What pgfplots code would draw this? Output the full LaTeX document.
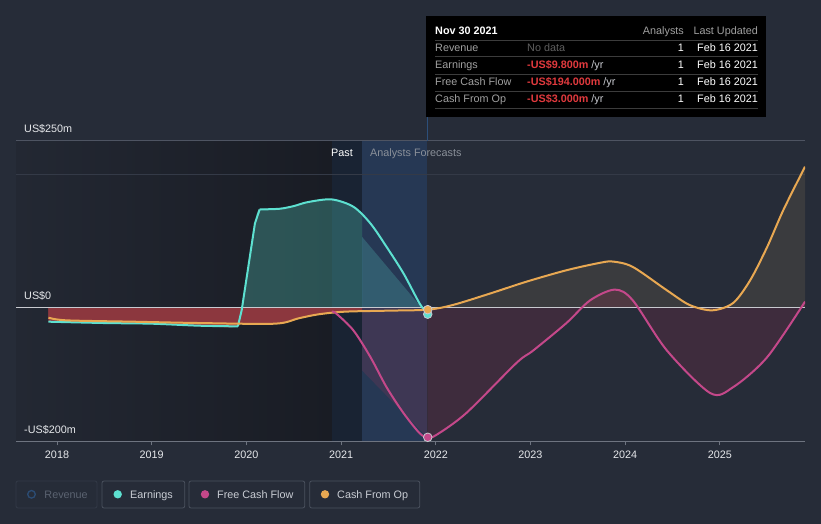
\documentclass[border=0pt]{standalone}
\usepackage{fontspec}
\setmainfont{Liberation Sans}
\usepackage{pgfplots}
\pgfplotsset{compat=1.18}
\definecolor{bg}{RGB}{38,44,56}
\definecolor{pastL}{RGB}{35,40,51}
\definecolor{pastR}{RGB}{25,28,36}
\definecolor{bandA}{RGB}{25,35,51}
\definecolor{bandB}{RGB}{38,56,84}
\definecolor{gridA}{RGB}{78,84,98}
\definecolor{gridB}{RGB}{52,58,71}
\definecolor{zeroc}{RGB}{200,202,208}
\definecolor{tickc}{RGB}{110,116,128}
\definecolor{lbl}{RGB}{230,232,235}
\definecolor{teal}{RGB}{93,224,208}
\definecolor{mag}{RGB}{196,72,138}
\definecolor{org}{RGB}{232,168,82}
\definecolor{negred}{RGB}{140,55,62}
\definecolor{cfofill}{RGB}{138,122,90}
\definecolor{fcffill}{RGB}{200,50,90}
\definecolor{ttgray}{RGB}{160,160,160}
\definecolor{ttdim}{RGB}{95,95,95}
\definecolor{ttred}{RGB}{226,58,62}
\definecolor{ttsep}{RGB}{60,60,60}
\definecolor{legtxt}{RGB}{201,205,212}
\definecolor{legbd}{RGB}{74,81,94}
\definecolor{legbd2}{RGB}{51,58,71}
\definecolor{revtxt}{RGB}{91,99,113}
\definecolor{revc}{RGB}{43,76,116}
\definecolor{hover}{RGB}{44,79,122}
\definecolor{pastlbl}{RGB}{138,144,153}
\begin{document}
\begin{tikzpicture}[font=\fontsize{10.8bp}{13bp}\selectfont]
\begin{scope}[x=1bp,y=-1bp,shift={(-16bp,441.3bp)}]
\fill[bg] (0,0) rectangle (821,524);
\end{scope}
\begin{axis}[
  scale only axis, width=789bp, height=300.7bp,
  xmin=2017.567, xmax=2025.899, ymin=-200, ymax=250,
  axis on top,
  axis line style={draw=none},
  xtick={2018,2019,2020,2021,2022,2023,2024,2025},
  xticklabels={2018,2019,2020,2021,2022,2023,2024,2025},
  xtick pos=left, ytick pos=left, tick align=outside,
  major tick length=4bp,
  xtick style={draw=tickc, line width=0.8bp},
  ytick style={draw=none},
  ytick={-200,0,250},
  yticklabels={-US\$200m, US\$0, US\$250m},
  yticklabel style={anchor=base west, inner sep=0pt, xshift=12bp, yshift=8bp, text=lbl},
  xticklabel style={anchor=base, inner sep=0pt, yshift=-12.7bp, text=lbl},
  /pgf/number format/assume math mode=true,
]
% background regions
\shade[left color=pastL, right color=pastR] (axis cs:2017.567,-200) rectangle (axis cs:2020.904,250);
\fill[bandA] (axis cs:2020.904,-200) rectangle (axis cs:2021.221,250);
\fill[bandB] (axis cs:2021.221,-200) rectangle (axis cs:2021.91,250);
% grid lines
\draw[gridB, line width=0.8bp] (axis cs:2017.567,200) -- (axis cs:2025.899,200);
\draw[gridA, line width=0.8bp] (axis cs:2017.567,250) -- (axis cs:2025.899,250);
% red fill (past negative)
\addplot[draw=none, fill=negred, smooth] coordinates {
 (2017.91,-15) (2018.1,-19) (2018.8,-21) (2019.5,-23) (2020.3,-24)
 (2020.55,-16) (2020.76,-10) (2021.04,-6) (2021.221,-5) } \closedcycle;
\addplot[draw=none, fill=negred, smooth] coordinates {
 (2017.91,-21) (2018.5,-23) (2019.0,-24) (2019.5,-27) (2019.91,-28) (2019.955,0) } \closedcycle;
% teal fill (past positive earnings)
\addplot[draw=none, fill=teal, fill opacity=0.28, smooth] coordinates {
 (2019.955,0) (2020.02,61) (2020.09,126) (2020.14,147) (2020.35,148) (2020.5,152)
 (2020.65,158) (2020.9,162) (2021.13,151) (2021.221,140) } \closedcycle;
\addplot[draw=none, fill=teal, fill opacity=0.22] coordinates {
 (2021.221,0) (2021.221,106) (2021.85,0) } \closedcycle;
% fcf past fill (band)
\addplot[draw=none, fill=fcffill, fill opacity=0.15] coordinates {
 (2021.221,0) (2021.221,-94) (2021.91,-194) (2021.91,0) } \closedcycle;
% forecast fills
\addplot[draw=none, fill=cfofill, fill opacity=0.2, smooth] coordinates {
 (2021.915,-3) (2022.18,4) (2022.57,21) (2022.96,39) (2023.38,56) (2023.73,67)
 (2023.87,69) (2024.08,61) (2024.44,26) (2024.68,4) (2024.92,-4) (2025.14,7)
 (2025.32,41) (2025.5,91) (2025.67,146) (2025.899,211) } \closedcycle;
\addplot[draw=none, fill=fcffill, fill opacity=0.15, smooth] coordinates {
 (2021.915,-194) (2022.0,-191) (2022.32,-158) (2022.85,-83) (2023.03,-64)
 (2023.38,-23) (2023.63,11) (2023.89,27) (2024.08,11) (2024.44,-64)
 (2024.9,-128) (2025.14,-119) (2025.5,-74) (2025.899,9) } \closedcycle;
% zero line
\draw[zeroc, line width=1.3bp] (axis cs:2017.567,0) -- (axis cs:2025.899,0);
% earnings line
\addplot[teal, line width=2bp, smooth] coordinates {
 (2017.91,-21) (2018.5,-23) (2019.0,-24) (2019.5,-27) (2019.91,-28) };
\addplot[teal, line width=2bp] coordinates { (2019.91,-28) (2019.95,-4) (2020.02,61) (2020.09,126) (2020.14,147) };
\addplot[teal, line width=2bp, smooth] coordinates {
 (2020.14,147) (2020.35,148) (2020.5,152) (2020.65,158) (2020.9,162)
 (2021.13,151) (2021.31,126) (2021.48,91) (2021.66,51) (2021.83,6) (2021.915,-9.8) };
% cash from op
\addplot[org, line width=2bp, smooth] coordinates {
 (2017.91,-15) (2018.1,-19) (2018.8,-21) (2019.5,-23) (2020.3,-24)
 (2020.55,-16) (2020.76,-10) (2021.04,-6) (2021.5,-4.5) (2021.915,-3)
 (2022.18,4) (2022.57,21) (2022.96,39) (2023.38,56) (2023.73,67)
 (2023.87,69) (2024.08,61) (2024.44,26) (2024.68,4) (2024.92,-4) (2025.14,7)
 (2025.32,41) (2025.5,91) (2025.67,146) (2025.899,211) };
% free cash flow
\addplot[mag, line width=2bp, smooth] coordinates {
 (2020.904,-6) (2020.95,-9) (2021.13,-34) (2021.31,-74) (2021.48,-119) (2021.66,-158)
 (2021.83,-188) (2021.915,-194) (2022.0,-191) (2022.32,-158) (2022.85,-83) (2023.03,-64)
 (2023.38,-23) (2023.63,11) (2023.89,27) (2024.08,11) (2024.44,-64)
 (2024.9,-128) (2025.14,-119) (2025.5,-74) (2025.899,9) };
% markers
\addplot[only marks, mark=*, mark size=4.3bp, mark options={fill=teal, draw=zeroc, line width=0.8bp}] coordinates {(2021.915,-9.8)};
\addplot[only marks, mark=*, mark size=4.3bp, mark options={fill=org, draw=zeroc, line width=0.8bp}] coordinates {(2021.915,-3)};
\addplot[only marks, mark=*, mark size=4.3bp, mark options={fill=mag, draw=zeroc, line width=0.8bp}] coordinates {(2021.915,-194)};
% bottom axis line
\draw[tickc, line width=1bp] (rel axis cs:0,0) -- (rel axis cs:1,0);
\end{axis}
\begin{scope}[x=1bp,y=-1bp,shift={(-16bp,441.3bp)}]
% past / forecast labels
\node[anchor=base east, inner sep=0pt, text=white] at (353,157) {Past};
\node[anchor=base west, inner sep=0pt, text=pastlbl] at (370,157) {Analysts Forecasts};
% hover line
\draw[hover, line width=1.2bp] (427.3,116) -- (427.3,141);
% tooltip
\fill[black] (426,16) rectangle (766,117);
\node[anchor=base west, inner sep=0pt, text=white, font=\fontsize{10.8bp}{13bp}\selectfont\bfseries] at (435,35) {Nov 30 2021};
\node[anchor=base east, inner sep=0pt, text=ttgray] at (684,35) {Analysts};
\node[anchor=base east, inner sep=0pt, text=ttgray] at (758,35) {Last Updated};
\foreach \yy in {40,56.7,74,91,108.3} { \draw[ttsep, line width=0.8bp] (435,\yy) -- (758,\yy); }
\node[anchor=base west, inner sep=0pt, text=ttgray] at (435,52) {Revenue};
\node[anchor=base west, inner sep=0pt, text=ttgray] at (435,69) {Earnings};
\node[anchor=base west, inner sep=0pt, text=ttgray] at (435,86) {Free Cash Flow};
\node[anchor=base west, inner sep=0pt, text=ttgray] at (435,103) {Cash From Op};
\node[anchor=base west, inner sep=0pt, text=ttdim] at (527,52) {No data};
\node[anchor=base west, inner sep=0pt] at (527,69) {\textcolor{ttred}{\bfseries -US\$9.800m}\ \textcolor{zeroc}{/yr}};
\node[anchor=base west, inner sep=0pt] at (527,86) {\textcolor{ttred}{\bfseries -US\$194.000m}\ \textcolor{zeroc}{/yr}};
\node[anchor=base west, inner sep=0pt] at (527,103) {\textcolor{ttred}{\bfseries -US\$3.000m}\ \textcolor{zeroc}{/yr}};
\foreach \yy in {52,69,86,103} {
  \node[anchor=base east, inner sep=0pt, text=white] at (684,\yy) {1};
  \node[anchor=base east, inner sep=0pt, text=white] at (758,\yy) {Feb 16 2021};
}
% legend
\draw[legbd2, line width=0.8bp, rounded corners=2bp] (16,481) rectangle (97,508);
\draw[revc, line width=1.3bp] (31.5,494.3) circle (3.8);
\node[anchor=base west, inner sep=0pt, text=revtxt] at (44.3,498.3) {Revenue};
\draw[legbd, line width=0.8bp, rounded corners=2bp] (102,481) rectangle (184.7,508);
\fill[teal] (117.7,494.3) circle (4.2);
\node[anchor=base west, inner sep=0pt, text=legtxt] at (130,498.3) {Earnings};
\draw[legbd, line width=0.8bp, rounded corners=2bp] (189,481) rectangle (304.7,508);
\fill[mag] (205,494.3) circle (4.2);
\node[anchor=base west, inner sep=0pt, text=legtxt] at (217,498.3) {Free Cash Flow};
\draw[legbd, line width=0.8bp, rounded corners=2bp] (309.7,481) rectangle (419.7,508);
\fill[org] (325,494.3) circle (4.2);
\node[anchor=base west, inner sep=0pt, text=legtxt] at (337,498.3) {Cash From Op};
\end{scope}
\end{tikzpicture}
\end{document}
